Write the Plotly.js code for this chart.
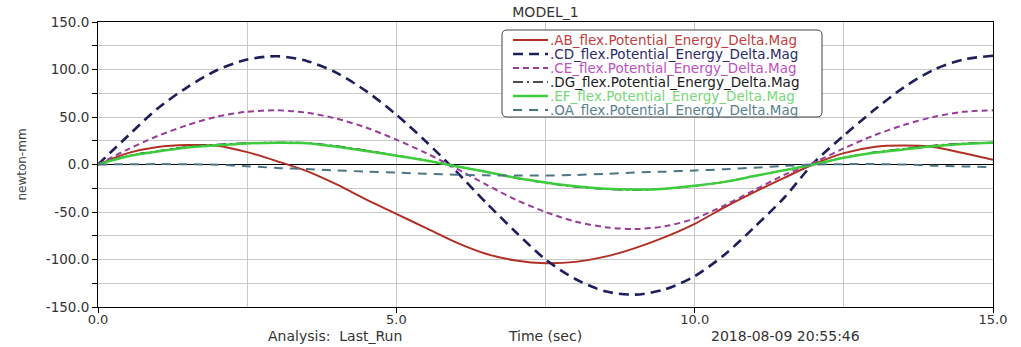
<!DOCTYPE html>
<html>
<head>
<meta charset="utf-8">
<script src="https://cdn.plot.ly/plotly-3.0.1.min.js"></script>
<style>
  html, body { margin: 0; padding: 0; background: #ffffff; }
  #chart { width: 1021px; height: 347px; }
</style>
</head>
<body>
<div id="chart"></div>
<script>
// ---------------- data ----------------
const time = [0,0.5,1,1.5,2,2.5,3,3.5,4,4.5,5,5.5,6,6.5,7,7.5,8,8.5,9,9.5,10,10.5,11,11.5,12,12.5,13,13.5,14,14.5,15];

const abValues = [0,12,18.5,20.5,19.8,13,3.5,-7,-21,-37,-52,-67,-82,-94,-101,-104,-102.5,-97,-88,-76.5,-62.5,-45,-29,-14,0.5,12,18.5,20,18.5,12,5];
const cdValues = [0,30,59,81.5,99.5,110.5,114,109,96.5,77,52.5,24,-7,-40,-71,-100,-120.5,-133.5,-137,-131.5,-117.5,-95,-66,-35,2,30.5,57,81,99.5,110.5,114.5];
const ceValues = [0,16,30,41.5,50.5,55.5,57,54.5,48.3,38.7,26.2,12,-4,-21,-37,-50,-60,-66,-68,-65,-57,-43,-27,-11,2,17,30.5,41.5,50,55.5,57];
const dgValues = [0,9,14.3,18.6,21,22.6,23.2,22.8,19.5,14.8,9.6,4.2,-1.8,-7.6,-14.2,-19.5,-23.5,-26,-26.8,-25.6,-22.6,-18.3,-12.2,-6,0.3,7.2,12.8,16.5,20,22.2,23.2];
const efValues = [0,8.7,13.6,17.8,20.3,22.2,23,22.5,18.8,14.2,9.3,4.1,-1.8,-7.6,-14,-19,-23,-25.6,-26.4,-25.4,-22.4,-18.3,-12.2,-6,0,7,12.3,15.8,19.3,21.6,22.8];
const oaValues = [0,0.3,0.4,0.3,-0.2,-1.8,-3.6,-4.8,-6.2,-7.5,-8.5,-9.8,-10.8,-11.4,-11.6,-11.6,-11,-9.8,-8.5,-7.5,-6.3,-5,-3.3,-1.5,0,0.4,0.4,0,-1.2,-2,-2.8];

const seriesNames = [
  ".AB_flex.Potential_Energy_Delta.Mag",
  ".CD_flex.Potential_Energy_Delta.Mag",
  ".CE_flex.Potential_Energy_Delta.Mag",
  ".DG_flex.Potential_Energy_Delta.Mag",
  ".EF_flex.Potential_Energy_Delta.Mag",
  ".OA_flex.Potential_Energy_Delta.Mag"
];

const xTickVals = [0, 5, 10, 15];
const xTickText = ["0.0", "5.0", "10.0", "15.0"];
const yTickVals = [-150, -100, -50, 0, 50, 100, 150];
const yTickText = ["-150.0", "-100.0", "-50.0", "0.0", "50.0", "100.0", "150.0"];

const chartTitle = "MODEL_1";
const xTitle = "Time (sec)";
const yTitle = "newton-mm";
const analysisText = "Analysis:&nbsp;&nbsp;Last_Run";
const dateText = "2018-08-09 20:55:46";

// ---------------- styles ----------------
const seriesData = [abValues, cdValues, ceValues, dgValues, efValues, oaValues];
const lineColors = ["#b03025", "#1e1e5a", "#983c98", "#111111", "#3ccc3c", "#4e7585"];
const textColors = ["#c04040", "#2a2a6a", "#c050c0", "#1a1a1a", "#77d877", "#5a8090"];
const lineWidths = [2, 2.6, 2, 1.5, 2.5, 2];
const lineDashes = ["solid", "10px,6px", "6px,4px", "10px,4px,2px,4px", "solid", "9px,7px"];

const FONT = "DejaVu Sans, Verdana, sans-serif";

// plot area in pixels
const L = 98, R = 993, T = 22, B = 307;
const W = 1021, H = 347;
const px2x = p => (p - L) / (R - L);
const px2y = p => (B - p) / (B - T);

const traces = seriesData.map((vals, i) => ({
  type: "scatter",
  mode: "lines",
  x: time,
  y: vals,
  name: seriesNames[i],
  line: { color: lineColors[i], width: lineWidths[i], dash: lineDashes[i], shape: "spline", smoothing: 0.8 },
  showlegend: false,
  hoverinfo: "skip"
}));

// custom legend (box + samples + coloured labels)
const legLeft = 502, legRight = 822, legTop = 30, legBottom = 117;
const rowStart = 40, rowStep = 14;
const rx = 5 / (R - L), ry = 5 / (B - T);
const x0 = px2x(legLeft), x1 = px2x(legRight), y0 = px2y(legBottom), y1 = px2y(legTop);
const shapes = [{
  type: "path", xref: "paper", yref: "paper", layer: "above",
  path: `M ${x0+rx},${y1} L ${x1-rx},${y1} Q ${x1},${y1} ${x1},${y1-ry} L ${x1},${y0+ry} Q ${x1},${y0} ${x1-rx},${y0} L ${x0+rx},${y0} Q ${x0},${y0} ${x0},${y0+ry} L ${x0},${y1-ry} Q ${x0},${y1} ${x0+rx},${y1} Z`,
  fillcolor: "#ffffff",
  line: { color: "#444444", width: 1 }
}];
const annotations = [];
seriesNames.forEach((nm, i) => {
  const yy = px2y(rowStart + i * rowStep);
  shapes.push({
    type: "line", xref: "paper", yref: "paper", layer: "above",
    x0: px2x(513), x1: px2x(548), y0: yy, y1: yy,
    line: { color: lineColors[i], width: lineWidths[i], dash: lineDashes[i] }
  });
  annotations.push({
    xref: "paper", yref: "paper", x: px2x(549), y: yy,
    xanchor: "left", yanchor: "middle", showarrow: false, borderpad: 0,
    text: nm, font: { family: FONT, size: 13.5, color: textColors[i] }
  });
});

annotations.push({
  xref: "paper", yref: "paper", x: px2x(335), y: px2y(336),
  xanchor: "center", yanchor: "middle", showarrow: false,
  text: analysisText, font: { family: FONT, size: 14, color: "#333333" }
});
annotations.push({
  xref: "paper", yref: "paper", x: px2x(785), y: px2y(336),
  xanchor: "center", yanchor: "middle", showarrow: false,
  text: dateText, font: { family: FONT, size: 14, color: "#333333" }
});

const layout = {
  width: W, height: H,
  margin: { l: L, r: W - R, t: T, b: H - B, pad: 0 },
  paper_bgcolor: "#ffffff",
  plot_bgcolor: "#ffffff",
  showlegend: false,
  font: { family: FONT, size: 14, color: "#333333" },
  title: {
    text: chartTitle,
    font: { family: FONT, size: 14, color: "#333333" },
    xref: "paper", x: 0.5, xanchor: "center",
    yref: "container", y: 1 - 12 / H, yanchor: "middle"
  },
  xaxis: {
    range: [0, 15],
    tickvals: xTickVals, ticktext: xTickText,
    ticks: "outside", ticklen: 5, tickcolor: "#000000", tickwidth: 1,
    ticklabelstandoff: -5,
    showgrid: true, gridcolor: "#c8c8c8", gridwidth: 1,
    minor: { dtick: 2.5, showgrid: true, gridcolor: "#c8c8c8", gridwidth: 1, ticks: "" },
    showline: true, linecolor: "#000000", linewidth: 1, mirror: true,
    zeroline: false,
    tickfont: { family: FONT, size: 13, color: "#333333" },
    title: { text: xTitle, font: { family: FONT, size: 14, color: "#333333" }, standoff: 5 },
    automargin: false
  },
  yaxis: {
    range: [-150, 150],
    tickvals: yTickVals, ticktext: yTickText,
    ticks: "outside", ticklen: 5, tickcolor: "#000000", tickwidth: 1,
    showgrid: true, gridcolor: "#c8c8c8", gridwidth: 1,
    minor: { dtick: 25, showgrid: true, gridcolor: "#c8c8c8", gridwidth: 1, ticks: "outside", ticklen: 5, tickcolor: "#000000" },
    showline: true, linecolor: "#000000", linewidth: 1, mirror: true,
    zeroline: true, zerolinecolor: "#000000", zerolinewidth: 1,
    tickfont: { family: FONT, size: 13.5, color: "#333333" },
    title: { text: yTitle, font: { family: FONT, size: 12, color: "#444444" }, standoff: 16 },
    automargin: false
  },
  shapes: shapes,
  annotations: annotations
};

Plotly.newPlot("chart", traces, layout, { displayModeBar: false, staticPlot: true });
</script>
</body>
</html>
